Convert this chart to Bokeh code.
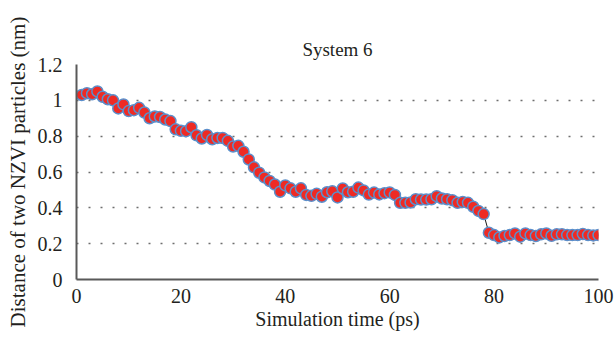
from bokeh.plotting import figure
from bokeh.models import Range1d, FixedTicker
from bokeh.embed import file_html
from bokeh.resources import INLINE

# ---- data ----
time_ps = list(range(1, 101))
distance_nm = [
    1.030, 1.040, 1.034, 1.050, 1.020, 1.006, 1.000, 0.955, 0.977, 0.940,
    0.945, 0.958, 0.932, 0.900, 0.910, 0.907, 0.893, 0.884, 0.838, 0.830,
    0.828, 0.850, 0.805, 0.787, 0.807, 0.783, 0.790, 0.790, 0.774, 0.742,
    0.746, 0.713, 0.670, 0.626, 0.596, 0.570, 0.550, 0.530, 0.490, 0.525,
    0.509, 0.490, 0.509, 0.472, 0.467, 0.478, 0.462, 0.487, 0.492, 0.458,
    0.508, 0.487, 0.490, 0.513, 0.497, 0.474, 0.485, 0.475, 0.482, 0.486,
    0.472, 0.428, 0.428, 0.430, 0.448, 0.446, 0.446, 0.448, 0.465, 0.452,
    0.448, 0.443, 0.428, 0.433, 0.428, 0.406, 0.383, 0.365, 0.261, 0.248,
    0.235, 0.243, 0.248, 0.257, 0.239, 0.257, 0.248, 0.243, 0.252, 0.257,
    0.244, 0.252, 0.252, 0.248, 0.248, 0.248, 0.254, 0.248, 0.246, 0.248,
]
x_ticks = [0, 20, 40, 60, 80, 100]
y_ticks = [0, 0.2, 0.4, 0.6, 0.8, 1, 1.2]
y_tick_labels = ["0", "0.2", "0.4", "0.6", "0.8", "1", "1.2"]

FONT = "Liberation Serif"
TXT = "#231F20"

p = figure(width=615, height=339, output_backend="svg", toolbar_location=None,
           x_range=Range1d(0, 100), y_range=Range1d(0, 1.2),
           min_border_left=76, min_border_right=17, min_border_top=64, min_border_bottom=60)
p.outline_line_color = None
p.background_fill_color = "white"

p.title.text = "System 6"
p.title.align = "center"
p.title.text_font = FONT
p.title.text_font_size = "19px"
p.title.text_font_style = "normal"
p.title.text_color = TXT
p.title.standoff = 9

p.line(time_ps, distance_nm, line_color="#1A1A1A", line_width=1)
p.scatter(time_ps, distance_nm, size=11, fill_color="#EE2A24",
          line_color="#5B8FCB", line_width=1.5)

p.xaxis.ticker = FixedTicker(ticks=x_ticks)
p.yaxis.ticker = FixedTicker(ticks=y_ticks)
p.yaxis.major_label_overrides = dict(zip(y_ticks, y_tick_labels))

for ax in (p.xaxis, p.yaxis):
    ax.axis_line_color = "#595959"
    ax.axis_line_width = 2
    ax.major_tick_line_color = None
    ax.minor_tick_line_color = None
    ax.major_label_text_font = FONT
    ax.major_label_text_font_size = "20px"
    ax.major_label_text_color = TXT
    ax.axis_label_text_font = FONT
    ax.axis_label_text_font_size = "20px"
    ax.axis_label_text_font_style = "normal"
    ax.axis_label_text_color = TXT

p.yaxis.axis_label_text_font_size = "21px"
p.xaxis.axis_label = "Simulation time (ps)"
p.yaxis.axis_label = "Distance of two NZVI particles (nm)"
p.xaxis.major_label_standoff = 3
p.yaxis.major_label_standoff = 8
p.xaxis.axis_label_standoff = 2
p.yaxis.axis_label_standoff = 5

p.xgrid.grid_line_color = None
p.ygrid.grid_line_color = "#6E6E6E"
p.ygrid.grid_line_dash = "2 10"
p.ygrid.grid_line_width = 1.5

open("out.html", "w").write(file_html(p, INLINE))
